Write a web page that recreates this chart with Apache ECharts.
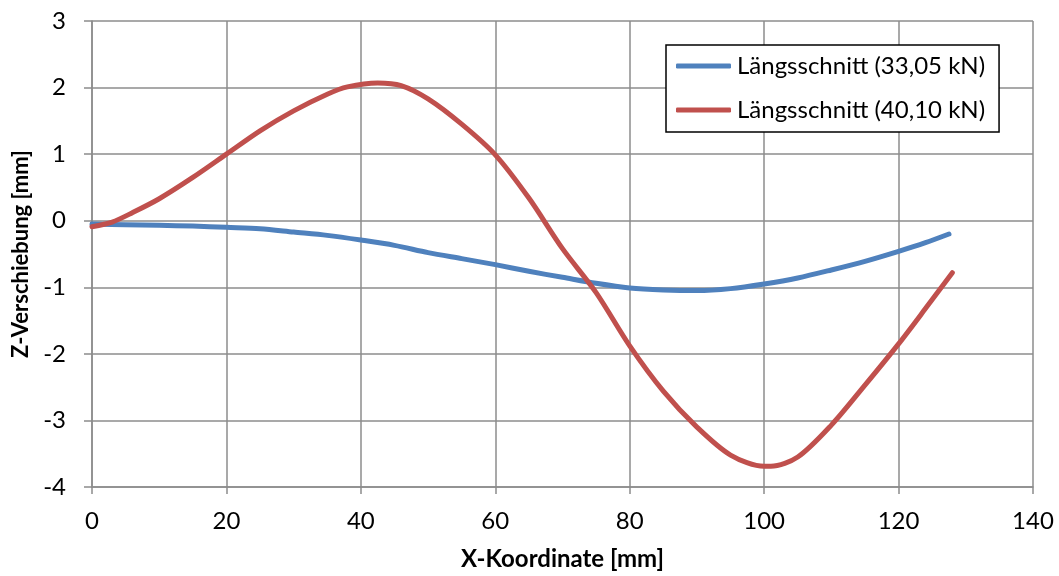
<!DOCTYPE html>
<html>
<head>
<meta charset="utf-8">
<script src="https://cdn.jsdelivr.net/npm/echarts@6/dist/echarts.min.js"></script>
<style>
  html, body { margin: 0; padding: 0; background: #ffffff; }
  #chart { width: 1059px; height: 576px; }
</style>
</head>
<body>
<div id="chart"></div>
<script>
// Längsschnitt profiles: X coordinate [mm] vs. Z displacement [mm]
const seriesNames = ['Längsschnitt (33,05 kN)', 'Längsschnitt (40,10 kN)'];

const xLoad33 = [0, 5, 10, 15, 20, 25, 30, 35, 40, 45, 50, 55, 60, 65, 70, 75, 80, 85, 90, 95, 100, 105, 110, 115, 120, 124, 127.5];
const zLoad33 = [-0.05, -0.06, -0.07, -0.08, -0.10, -0.12, -0.17, -0.22, -0.29, -0.37, -0.48, -0.57, -0.66, -0.76, -0.85, -0.94, -1.01, -1.04, -1.05, -1.02, -0.95, -0.86, -0.74, -0.61, -0.46, -0.33, -0.20];

const xLoad40 = [0, 3, 6, 10, 15, 20, 25, 30, 35, 38, 42.5, 46, 50, 55, 60, 65, 70, 75, 80, 85, 90, 95, 100, 101, 105, 110, 115, 120, 124, 128];
const zLoad40 = [-0.09, -0.02, 0.12, 0.33, 0.65, 1.00, 1.35, 1.65, 1.90, 2.01, 2.07, 2.03, 1.83, 1.45, 0.99, 0.34, -0.42, -1.08, -1.88, -2.56, -3.10, -3.52, -3.69, -3.69, -3.55, -3.07, -2.47, -1.85, -1.32, -0.78];

const xTicks = { min: 0, max: 140, interval: 20 };
const yTicks = { min: -4, max: 3, interval: 1 };

const pairs = (xs, ys) => xs.map((x, i) => [x, ys[i]]);

const FONT = 'Lato, "Open Sans", sans-serif';
const GRID_COLOR = '#8c8c8c';

const chart = echarts.init(document.getElementById('chart'), null, { renderer: 'canvas' });

chart.setOption({
  animation: false,
  backgroundColor: '#ffffff',
  textStyle: { fontFamily: FONT },
  grid: { left: 92, right: 26, top: 21, bottom: 89, containLabel: false, outerBoundsMode: 'none' },
  xAxis: {
    type: 'value',
    min: xTicks.min, max: xTicks.max, interval: xTicks.interval,
    name: 'X-Koordinate [mm]',
    nameLocation: 'middle',
    nameGap: 60,
    nameTextStyle: { fontFamily: FONT, fontSize: 24, fontWeight: 'bold', color: '#000' },
    axisLine: { show: true, onZero: false, lineStyle: { color: GRID_COLOR, width: 1.5 } },
    axisTick: { show: true, length: 7, lineStyle: { color: GRID_COLOR, width: 1.5 } },
    axisLabel: { fontFamily: FONT, fontSize: 24, color: '#000', margin: 22 },
    splitLine: { show: true, lineStyle: { color: GRID_COLOR, width: 1.5 } }
  },
  yAxis: {
    type: 'value',
    min: yTicks.min, max: yTicks.max, interval: yTicks.interval,
    name: 'Z-Verschiebung [mm]',
    nameLocation: 'middle',
    nameGap: 57,
    nameRotate: 90,
    nameTextStyle: { fontFamily: FONT, fontSize: 22, fontWeight: 'bold', color: '#000' },
    axisLine: { show: true, onZero: false, lineStyle: { color: GRID_COLOR, width: 1.5 } },
    axisTick: { show: true, length: 8, lineStyle: { color: GRID_COLOR, width: 1.5 } },
    axisLabel: { fontFamily: FONT, fontSize: 24, color: '#000', margin: 26 },
    splitLine: { show: true, lineStyle: { color: GRID_COLOR, width: 1.5 } }
  },
  legend: {
    orient: 'vertical',
    left: 666,
    top: 45,
    backgroundColor: '#ffffff',
    borderColor: '#000000',
    borderWidth: 1.5,
    borderRadius: 0,
    padding: [8, 14, 9, 10],
    itemGap: 18,
    itemWidth: 55,
    itemHeight: 5,
    icon: 'roundRect',
    textStyle: { fontFamily: FONT, fontSize: 24, color: '#000', lineHeight: 26, padding: [0, 0, 0, 1] },
    data: seriesNames
  },
  series: [
    {
      name: seriesNames[0],
      type: 'line',
      data: pairs(xLoad33, zLoad33),
      smooth: 0.3,
      showSymbol: false,
      symbol: 'none',
      lineStyle: { color: '#4f81bd', width: 5, cap: 'round', join: 'round' },
      itemStyle: { color: '#4f81bd' },
      z: 3
    },
    {
      name: seriesNames[1],
      type: 'line',
      data: pairs(xLoad40, zLoad40),
      smooth: 0.3,
      showSymbol: false,
      symbol: 'none',
      lineStyle: { color: '#c0504d', width: 5, cap: 'round', join: 'round' },
      itemStyle: { color: '#c0504d' },
      z: 4
    }
  ]
});
</script>
</body>
</html>
